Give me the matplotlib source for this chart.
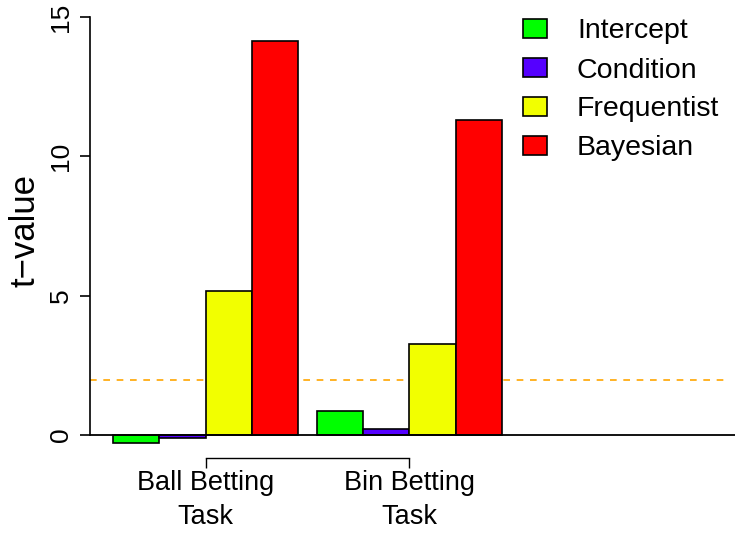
import matplotlib.pyplot as plt
import numpy as np
from matplotlib.patches import Rectangle

plt.rcParams['font.family'] = ['Liberation Sans', 'DejaVu Sans']

tasks = ["Ball Betting\nTask", "Bin Betting\nTask"]
series = ["Intercept", "Condition", "Frequentist", "Bayesian"]
colors = ["#00FF00", "#5500FF", "#F2FF00", "#FF0000"]

# t-values per task, one row per series
intercept = [-0.3, 0.86]
condition = [-0.1, 0.2]
frequentist = [5.15, 3.27]
bayesian = [14.15, 11.32]
crit = 1.96

values = np.array([intercept, condition, frequentist, bayesian])

W, H = 739, 540
fig = plt.figure(figsize=(W / 100, H / 100), dpi=100)
# y=15 at 17px, y=0 at 435px from top; x from 90px to 735px
ylo, yhi = -0.6, 15.3
pxu = (435 - 17) / 15.0
top_px = 17 - (yhi - 15) * pxu
bot_px = 435 - ylo * pxu
ax = fig.add_axes([90 / W, 1 - bot_px / H, 645 / W, (bot_px - top_px) / H])

bw = 1.0
gap = 0.4
starts = [0.5, 0.5 + 4 * bw + gap]
for g, x0 in enumerate(starts):
    for i in range(4):
        ax.bar(x0 + i * bw, values[i, g], width=bw, align='edge',
               color=colors[i], edgecolor='black', linewidth=1.2, zorder=3)

xmax = 645 / 46.3
ax.set_xlim(0, xmax)
ax.set_ylim(ylo, yhi)

ax.axhline(0, color='black', linewidth=1.3, zorder=4)
ax.axhline(crit, xmax=0.99, color='orange', linestyle=(0, (4, 4)), linewidth=1.2, zorder=2)

for s in ['top', 'right']:
    ax.spines[s].set_visible(False)
ax.spines['left'].set_bounds(0, 15)
ax.spines['left'].set_linewidth(1.2)
ax.set_yticks([0, 5, 10, 15])
ax.tick_params(axis='y', length=7, width=1.2, labelsize=19, pad=5)
for lbl in ax.get_yticklabels():
    lbl.set_rotation(90)
    lbl.set_va('center')
ax.set_ylabel("t\u2212value", fontsize=25, labelpad=6)

# group axis under the bars
centers = [x0 + 2 * bw for x0 in starts]
ax.spines['bottom'].set_bounds(centers[0], centers[1])
ax.spines['bottom'].set_position(('outward', (458 - bot_px) * 0.72))
ax.spines['bottom'].set_linewidth(1.0)
ax.set_xticks(centers)
ax.set_xticklabels(tasks, fontsize=19.5, linespacing=1.38)
ax.tick_params(axis='x', length=7, width=1.0, pad=2)

# legend: boxes and labels in pixel positions of the figure
for i, (name, c) in enumerate(zip(series, colors)):
    yc = 28.5 + 39 * i
    fig.patches.append(Rectangle(((523) / W, 1 - (yc + 9.5) / H), 24 / W, 19 / H,
                                 transform=fig.transFigure, facecolor=c,
                                 edgecolor='black', linewidth=1.2))
    fig.text(577 / W, 1 - yc / H, name, fontsize=20.5, va='center_baseline', ha='left')

fig.savefig("out.png", dpi=100)
